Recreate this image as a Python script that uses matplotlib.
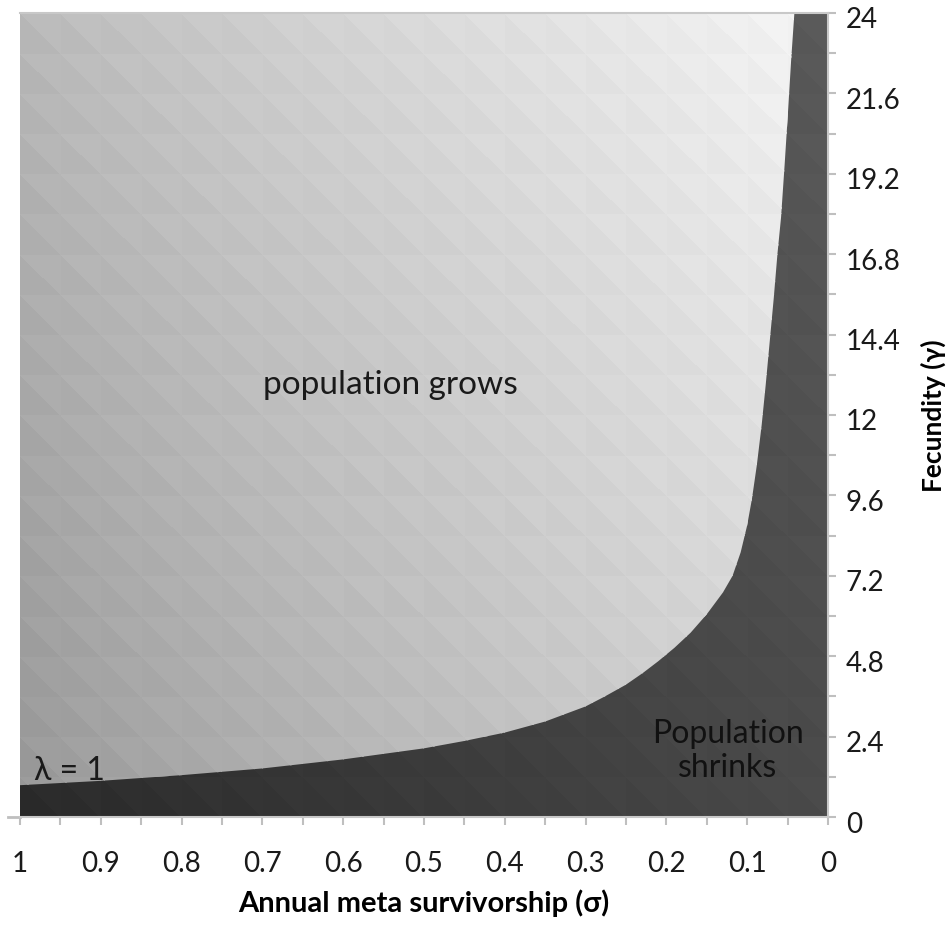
import numpy as np
import matplotlib.pyplot as plt
import matplotlib.tri as mtri
from matplotlib.patches import Polygon
from matplotlib.transforms import ScaledTranslation

plt.rcParams['font.family'] = ['Lato', 'DejaVu Sans']

# lambda = 1 boundary (survivorship, fecundity)
sigma_edge = [1.0, 0.9, 0.8, 0.7, 0.6, 0.5, 0.45, 0.4, 0.35, 0.3, 0.276,
              0.25, 0.229, 0.21, 0.19, 0.17, 0.15, 0.13, 0.118, 0.108,
              0.1, 0.094, 0.088, 0.082, 0.077, 0.072, 0.067, 0.0625,
              0.058, 0.0535, 0.049, 0.0455, 0.0415]
fec_edge = [0.95, 1.08, 1.25, 1.45, 1.72, 2.05, 2.27, 2.52, 2.85, 3.3, 3.6,
            3.95, 4.3, 4.65, 5.05, 5.5, 6.05, 6.7, 7.2, 7.9,
            8.7, 9.5, 10.5, 11.7, 12.9, 14.2, 15.5, 16.8,
            17.9, 19.5, 21.2, 22.6, 24.0]

x_ticks = [1, 0.9, 0.8, 0.7, 0.6, 0.5, 0.4, 0.3, 0.2, 0.1, 0]
x_labels = ['1', '0.9', '0.8', '0.7', '0.6', '0.5', '0.4', '0.3', '0.2', '0.1', '0']
y_ticks = [0, 2.4, 4.8, 7.2, 9.6, 12, 14.4, 16.8, 19.2, 21.6, 24]
y_labels = ['0', '2.4', '4.8', '7.2', '9.6', '12', '14.4', '16.8', '19.2', '21.6', '24']

# surface grid: 20 x 20 cells; x runs 1 -> 0 on screen, so each cell is
# split along its screen top-left -> bottom-right diagonal
sig_nodes = np.arange(21) * 0.05
fec_nodes = np.arange(21) * 1.2
S, F = np.meshgrid(sig_nodes, fec_nodes)
tri_list = []
lower = []
for r in range(20):
    for c in range(20):
        # c counts up in sigma, i.e. right to left on screen
        br = r * 21 + c
        bl = br + 1
        tr = br + 21
        tl = tr + 1
        tri_list.append([bl, br, tl])
        lower.append(True)
        tri_list.append([tl, br, tr])
        lower.append(False)
tri_list = np.array(tri_list)
lower = np.array(lower)
triang = mtri.Triangulation(S.ravel(), F.ravel(), tri_list)

cs = S.ravel()[tri_list].mean(axis=1)
cf = F.ravel()[tri_list].mean(axis=1)
facet = np.where(lower, -2.0, 1.5)
light = (150 + 62 * (1 - cs) ** 0.85 + 33 * cf / 24 + facet) / 255
dark = (42 + 32 * (1 - cs) + 16 * cf / 24 + facet * 0.6) / 255

fig = plt.figure(figsize=(9.5, 9.28), dpi=100)
ax = fig.add_axes([0.021, 0.1185, 0.8505, 0.8665])

ax.tripcolor(triang, facecolors=dark, cmap='gray', vmin=0, vmax=1,
             edgecolors='none', antialiased=False)
grow = ax.tripcolor(triang, facecolors=light, cmap='gray', vmin=0, vmax=1,
                    edgecolors='none', antialiased=False)
poly = Polygon(list(zip(sigma_edge, fec_edge)) + [(1.0, 24.0)],
               closed=True, transform=ax.transData)
grow.set_clip_path(poly)

ax.set_xlim(1, 0)
ax.set_ylim(0, 24)

ax.set_xticks(x_ticks)
ax.set_xticklabels(x_labels)
ax.set_xticks(np.arange(21) * 0.05, minor=True)
ax.set_yticks(y_ticks)
ax.set_yticklabels(y_labels)
ax.set_yticks(np.arange(21) * 1.2, minor=True)
ax.yaxis.tick_right()
ax.yaxis.set_label_position('right')
ax.tick_params(which='both', direction='out', length=6, width=1.5,
               color='#bfbfbf', labelsize=20, labelcolor='#1a1a1a')
ax.tick_params(axis='x', pad=18)
ax.tick_params(axis='y', pad=7)

# value labels sit a little below their tick marks
nudge = ScaledTranslation(0, -0.04, fig.dpi_scale_trans)
for lab in ax.get_yticklabels():
    lab.set_transform(lab.get_transform() + nudge)

for side in ['top', 'bottom', 'right']:
    ax.spines[side].set_color('#c8c8c8')
    ax.spines[side].set_linewidth(1.5)
ax.spines['left'].set_visible(False)

# short stub of the floor edge left of the plot
ax.plot([1.0, 1.015], [0, 0], color='#bfbfbf', lw=2, clip_on=False)

ax.set_xlabel('Annual meta survivorship (σ)', fontsize=21, fontweight='bold',
              labelpad=9)
ax.set_ylabel('Fecundity (γ)', fontsize=19, fontweight='bold', labelpad=14)

ax.text(0.541, 12.93, 'population grows', fontsize=24, ha='center',
        va='center', color='#1a1a1a')
ax.text(0.982, 1.15, 'λ = 1', fontsize=23, ha='left', va='baseline',
        color='#1a1a1a')
ax.text(0.124, 2.0, 'Population\nshrinks', fontsize=23, ha='center',
        va='center', color='#111111', linespacing=1.2)

fig.savefig('out.png', dpi=100)
